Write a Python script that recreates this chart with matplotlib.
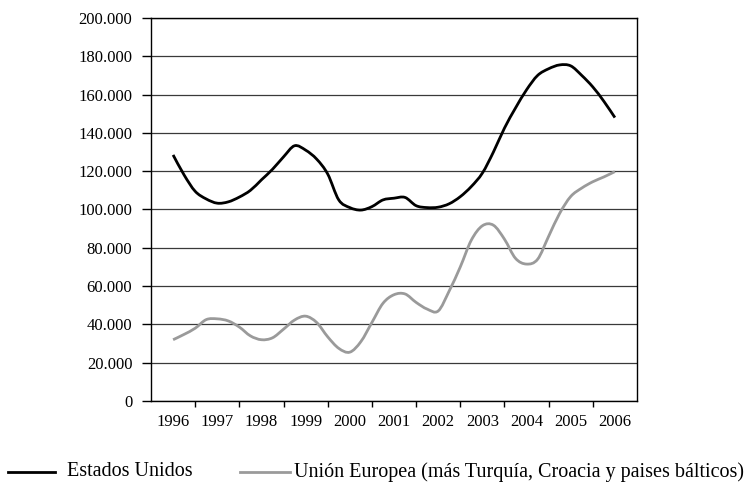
import numpy as np
import matplotlib.pyplot as plt
from matplotlib.path import Path
from matplotlib.patches import PathPatch
from matplotlib.lines import Line2D
from matplotlib.ticker import FixedLocator, FuncFormatter

plt.rcParams['font.family'] = ['Liberation Serif', 'DejaVu Serif']

years = [str(y) for y in range(1996, 2007)]

# readings taken every quarter, in thousands
estados_unidos = [128.5, 118.0, 109.5, 105.5, 103.3, 104.0, 106.5, 110.0, 115.5, 121.0,
                  127.5, 133.3, 131.0, 126.3, 118.5, 105.0, 101.0, 99.7, 101.5, 105.0,
                  105.9, 106.3, 102.0, 101.0, 101.2, 103.0, 106.7, 112.0, 119.0, 130.0,
                  142.5, 153.0, 162.5, 170.0, 173.5, 175.5, 175.0, 170.0, 164.0, 156.5,
                  148.0]
union_europea = [32.0, 34.8, 38.0, 42.5, 42.9, 41.8, 38.6, 34.0, 32.0, 33.0,
                 37.5, 42.3, 44.3, 41.0, 33.5, 27.5, 25.5, 31.0, 41.0, 51.0,
                 55.5, 55.9, 51.5, 48.0, 47.0, 57.5, 70.0, 84.0, 91.5, 91.8,
                 84.5, 74.5, 71.5, 74.0, 86.0, 98.0, 106.8, 111.2, 114.5, 117.0,
                 119.8]

labels = ['Estados Unidos', 'Unión Europea (más Turquía, Croacia y paises bálticos)']
colors = ['black', '#9a9a9a']


def smooth_path(xs, ys):
    # smoothed line like the spreadsheet one: bezier through every point
    pts = np.column_stack([xs, ys])
    verts = [pts[0]]
    codes = [Path.MOVETO]
    for i in range(len(pts) - 1):
        p0 = pts[max(i - 1, 0)]
        p1 = pts[i]
        p2 = pts[i + 1]
        p3 = pts[min(i + 2, len(pts) - 1)]
        verts += [p1 + (p2 - p0) / 6, p2 - (p3 - p1) / 6, p2]
        codes += [Path.CURVE4] * 3
    return Path(verts, codes)


fig = plt.figure(figsize=(7.54, 4.83), dpi=100)
ax = fig.add_axes([151 / 754, 1 - 401 / 483, 486 / 754, 383 / 483])

x = np.linspace(0, len(years) - 1, len(estados_unidos))
for serie, c in zip([estados_unidos, union_europea], colors):
    p = smooth_path(x, np.array(serie) * 1000)
    ax.add_patch(PathPatch(p, facecolor='none', edgecolor=c, lw=2.0,
                           joinstyle='round', capstyle='butt', zorder=3))

ax.set_xlim(-0.5, len(years) - 0.5)
ax.set_ylim(0, 200000)
ax.yaxis.set_major_locator(FixedLocator(np.arange(0, 200001, 20000)))
ax.yaxis.set_major_formatter(FuncFormatter(lambda v, p: f"{v:,.0f}".replace(',', '.')))
ax.grid(axis='y', color='#3a3a3a', lw=0.9, zorder=1)

ax.set_xticks(range(len(years)))
ax.set_xticklabels(years)
ax.set_xticks(np.arange(0.5, len(years) - 1, 1.0), minor=True)
ax.tick_params(axis='x', which='major', length=0, pad=9, labelsize=12)
ax.tick_params(axis='x', which='minor', length=4, width=1, direction='out', color='black')
ax.tick_params(axis='y', length=6.5, width=1, direction='out', pad=7, labelsize=12,
               color='black')

for s in ax.spines.values():
    s.set_color('black')
    s.set_linewidth(1.0)

# legend drawn by hand below the chart
ly = 1 - 472 / 483
for (x0, x1, tx), lab, c in zip([(8, 55, 67), (240, 290, 294)], labels, colors):
    fig.add_artist(Line2D([x0 / 754, x1 / 754], [ly, ly], color=c, lw=2.0,
                          transform=fig.transFigure))
    fig.text(tx / 754, ly, lab, fontsize=14.5, ha='left', va='center')

fig.savefig('out.png', dpi=100)
